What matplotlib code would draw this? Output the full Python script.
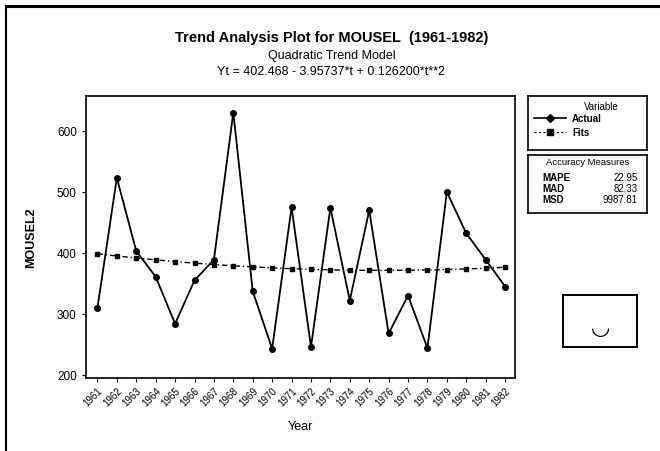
import matplotlib
matplotlib.use('Agg')
import matplotlib.pyplot as plt
from matplotlib.lines import Line2D

plt.rcParams['font.family'] = ['Liberation Sans', 'DejaVu Sans']

# Dados
anos = list(range(1961, 1983))
atual = [310, 523, 403, 361, 284, 355, 389, 630, 337, 243, 475,
         246, 474, 322, 470, 268, 330, 244, 500, 432, 389, 345]
ajustes = [398.6, 395.1, 391.7, 388.7, 385.8, 383.3, 381.0, 378.9, 377.1, 375.5, 374.2,
           373.2, 372.4, 371.8, 371.5, 371.5, 371.7, 372.1, 372.8, 373.8, 375.0, 376.5]
medidas = ['MAPE', 'MAD', 'MSD']
valores_medidas = ['22.95', '82.33', '9987.81']

fig = plt.figure(figsize=(6.6, 4.52), dpi=100)
ax = fig.add_axes([0.130, 0.1615, 0.650, 0.6235])

ax.plot(anos, atual, color='black', lw=1.3, marker='o', ms=4, label='Actual')
ax.plot(anos, ajustes, color='black', lw=1.0, ls=(0, (4, 2, 1, 2)), marker='s', ms=3.3,
        label='Fits')

ax.set_xlim(1960.4, 1982.5)
ax.set_ylim(195, 657)
ax.set_xticks(anos)
ax.set_xticklabels([str(a) for a in anos], rotation=45, ha='right', fontsize=7,
                   rotation_mode='anchor')
ax.set_yticks([200, 300, 400, 500, 600])
ax.tick_params(axis='y', labelsize=8.5, length=3)
ax.tick_params(axis='x', length=3, pad=2)
ax.set_xlabel('Year', fontsize=9, labelpad=9)
ax.set_ylabel('MOUSEL2', fontsize=9, fontweight='bold', labelpad=14)
for s in ax.spines.values():
    s.set_linewidth(1.2)

# Títulos
fig.text(0.502, 0.915, 'Trend Analysis Plot for MOUSEL  (1961-1982)', ha='center', va='center',
         fontsize=10.5, fontweight='bold')
fig.text(0.502, 0.877, 'Quadratic Trend Model', ha='center', va='center', fontsize=9)
fig.text(0.502, 0.840, 'Yt = 402.468 - 3.95737*t + 0.126200*t**2', ha='center', va='center',
         fontsize=9)

# Legenda
leg_ax = fig.add_axes([528/660, 1 - 151/452, 119/660, 54/452])
leg_ax.set_xticks([]); leg_ax.set_yticks([])
leg_ax.set_xlim(0, 1); leg_ax.set_ylim(0, 1)
for s in leg_ax.spines.values():
    s.set_linewidth(1.2)
leg_ax.text(0.62, 0.81, 'Variable', ha='center', va='center', fontsize=7)
leg_ax.plot([0.05, 0.32], [0.59, 0.59], color='black', lw=1.2)
leg_ax.plot([0.185], [0.59], color='black', marker='D', ms=4)
leg_ax.text(0.37, 0.59, 'Actual', va='center', fontsize=7, fontweight='bold')
leg_ax.plot([0.05, 0.32], [0.33, 0.33], color='black', lw=0.8, ls=(0, (2, 2)))
leg_ax.plot([0.185], [0.33], color='black', marker='s', ms=4)
leg_ax.text(0.37, 0.33, 'Fits', va='center', fontsize=7, fontweight='bold')

# Medidas de precisão
acc_ax = fig.add_axes([528/660, 1 - 214/452, 119/660, 58/452])
acc_ax.set_xticks([]); acc_ax.set_yticks([])
acc_ax.set_xlim(0, 1); acc_ax.set_ylim(0, 1)
for s in acc_ax.spines.values():
    s.set_linewidth(1.2)
acc_ax.text(0.5, 0.88, 'Accuracy Measures', ha='center', va='center', fontsize=6.8)
for i, (m, v) in enumerate(zip(medidas, valores_medidas)):
    y = 0.62 - i * 0.19
    acc_ax.text(0.12, y, m, va='center', fontsize=7, fontweight='bold')
    acc_ax.text(0.92, y, v, va='center', ha='right', fontsize=7)

# Caixa pequena
box_ax = fig.add_axes([563/660, 1 - 348/452, 74/660, 52/452])
box_ax.set_xticks([]); box_ax.set_yticks([])
for s in box_ax.spines.values():
    s.set_linewidth(1.4)
box_ax.text(0.5, 0.38, '\u25e1', ha='center', va='center', fontsize=16, fontweight='bold',
            transform=box_ax.transAxes, family='DejaVu Sans')

# Moldura externa
fig.add_artist(Line2D([0.009, 1.0], [0.984, 0.984], color='black', lw=2.2))
fig.add_artist(Line2D([0.009, 0.009], [0.0, 0.984], color='black', lw=1.5))

fig.savefig('out.png', dpi=100)
